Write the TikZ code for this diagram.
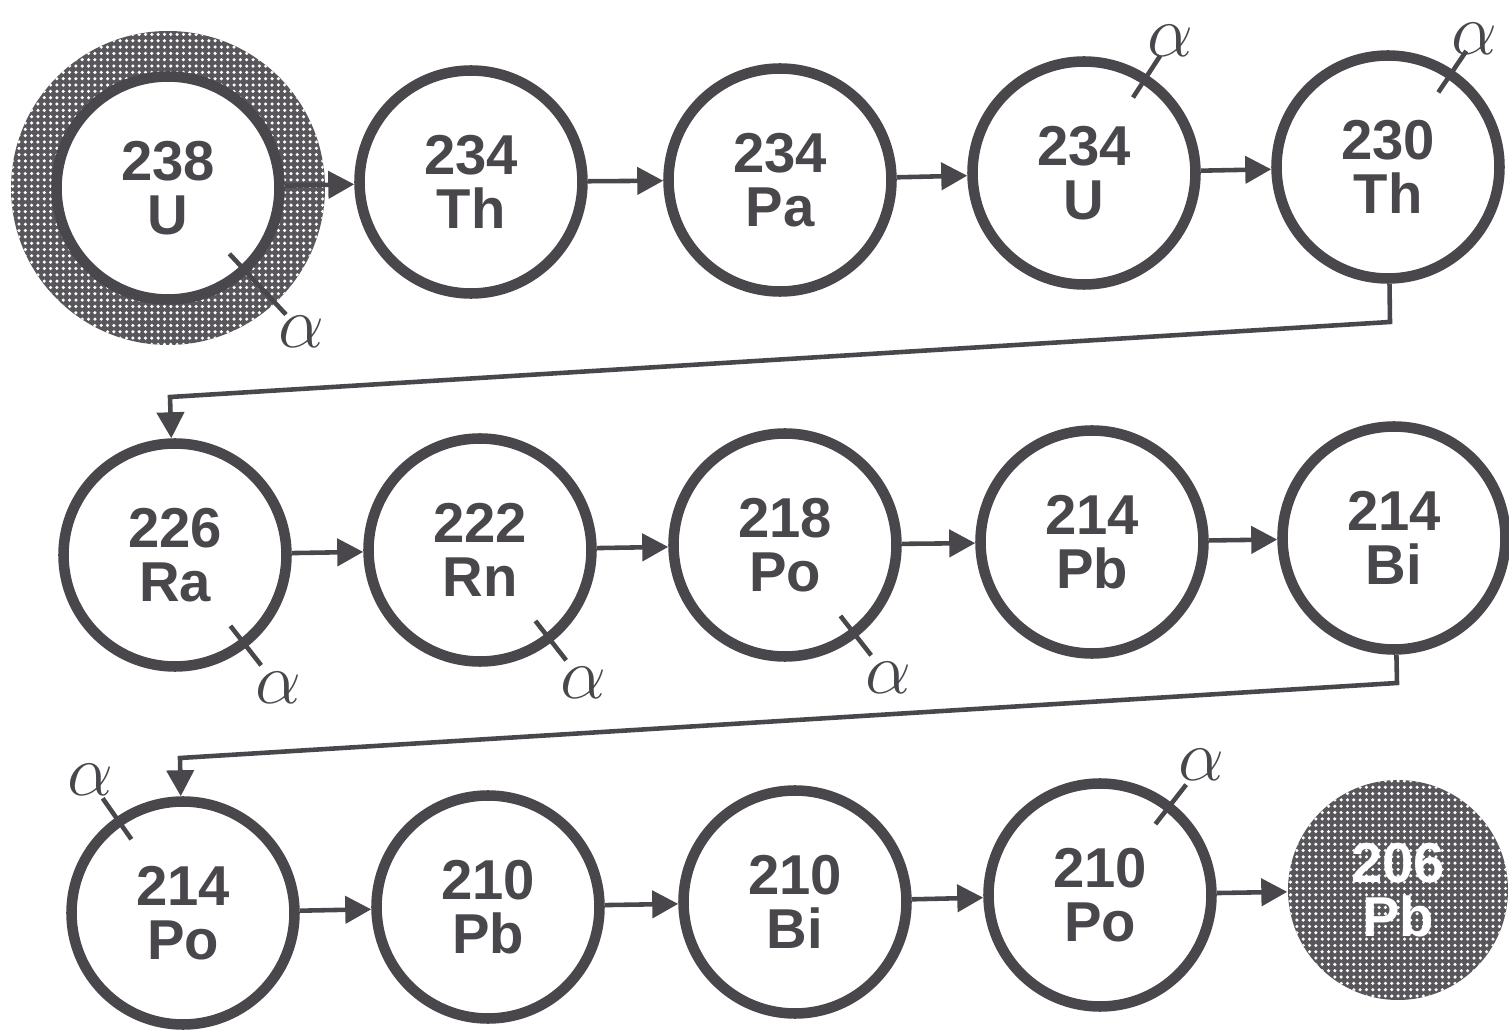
\documentclass[tikz,border=0pt]{standalone}
\usepackage{fontspec}
\usepackage{tikz}
\usetikzlibrary{arrows.meta,calc,patterns.meta}
\newfontfamily\nuclidefamily{Liberation Sans}
\definecolor{Ink}{HTML}{4A474C}
\newcommand{\nuclidefont}{\nuclidefamily\bfseries\fontsize{16}{15.5}\selectfont}
% alpha mark: [outer tick radius]{node}{angle}{label radius}
\newcommand{\decay}[4][1.40]{%
  \draw[tick] ([shift={(#3:0.90)}]#2.center) -- ([shift={(#3:#1)}]#2.center);
  \node[alphalabel] (#2-a) at ([shift={(#3:#4)}]#2.center) {$\alpha$};%
}
\tikzset{
  textured/.style={fill=Ink!92,
    postaction={pattern={Dots[distance=1.8pt, radius=0.5pt]}, pattern color=white}},
  nuclide/.style={circle, draw=Ink, line width=3pt, fill=white,
    minimum size=2.23cm, inner sep=0pt, align=center, text=Ink, font=\nuclidefont},
  parent/.style={circle, minimum size=3.14cm, inner sep=0pt, textured},
  stable/.style={circle, minimum size=2.2cm, inner sep=0pt, align=center,
    text=white, font=\nuclidefont, textured},
  flow/.style={draw=Ink, line width=1.3pt, -{Triangle[length=2.6mm, width=2.7mm]}},
  tick/.style={draw=Ink, line width=1.3pt},
  alphalabel/.style={text=Ink, inner sep=0pt, font=\huge}
}
\begin{document}
\begin{tikzpicture}
  \useasboundingbox (0,0) rectangle (15.09,-10.34);

  % first row
  \node[parent] (U238ring) at (1.68,-1.88) {};
  \node[nuclide] (U238) at (1.68,-1.88) {238\\U};
  \node[nuclide] (Th234) at (4.71,-1.82) {234\\Th};
  \node[nuclide] (Pa234) at (7.80,-1.80) {234\\Pa};
  \node[nuclide] (U234) at (10.84,-1.73) {234\\U};
  \node[nuclide] (Th230) at (13.88,-1.67) {230\\Th};

  % second row
  \node[nuclide] (Ra226) at (1.75,-5.55) {226\\Ra};
  \node[nuclide] (Rn222) at (4.80,-5.50) {222\\Rn};
  \node[nuclide] (Po218) at (7.85,-5.45) {218\\Po};
  \node[nuclide] (Pb214) at (10.92,-5.42) {214\\Pb};
  \node[nuclide] (Bi214) at (13.94,-5.38) {214\\Bi};

  % third row
  \node[nuclide] (Po214) at (1.83,-9.13) {214\\Po};
  \node[nuclide] (Pb210) at (4.88,-9.07) {210\\Pb};
  \node[nuclide] (Bi210) at (7.95,-9.02) {210\\Bi};
  \node[nuclide] (Po210) at (11.00,-8.95) {210\\Po};
  \node[stable] (Pb206) at (13.98,-8.90) {206\\Pb};

  \coordinate (bendA) at (13.90,-3.22);
  \coordinate (bendB) at (1.70,-3.97);
  \coordinate (bendC) at (13.97,-6.83);
  \coordinate (bendD) at (1.80,-7.58);

  \draw[flow] (U238) -- (Th234);
  \draw[flow] (Th234) -- (Pa234);
  \draw[flow] (Pa234) -- (U234);
  \draw[flow] (U234) -- (Th230);
  \draw[flow] (Th230) -- (bendA) -- (bendB) -- (Ra226);
  \draw[flow] (Ra226) -- (Rn222);
  \draw[flow] (Rn222) -- (Po218);
  \draw[flow] (Po218) -- (Pb214);
  \draw[flow] (Pb214) -- (Bi214);
  \draw[flow] (Bi214) -- (bendC) -- (bendD) -- (Po214);
  \draw[flow] (Po214) -- (Pb210);
  \draw[flow] (Pb210) -- (Bi210);
  \draw[flow] (Bi210) -- (Po210);
  \draw[flow] (Po210) -- (Pb206);

  \decay[1.73]{U238}{-47}{1.96}
  \decay{U234}{57}{1.58}
  \decay{Th230}{56}{1.55}
  \decay{Ra226}{-52}{1.68}
  \decay{Rn222}{-52}{1.68}
  \decay{Po218}{-52}{1.68}
  \decay{Po214}{125}{1.62}
  \decay{Po210}{52}{1.65}
\end{tikzpicture}
\end{document}
